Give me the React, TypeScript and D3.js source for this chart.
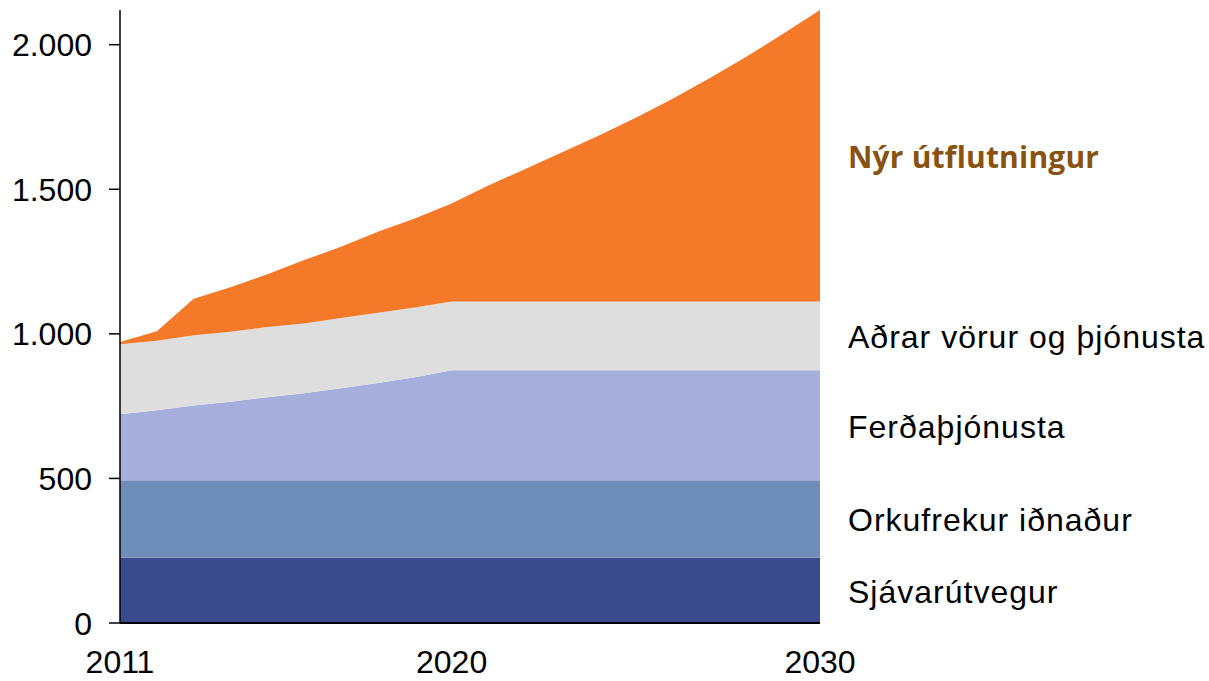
import React, { useRef, useEffect } from "react";
import * as d3 from "d3";

const years = [
  2011, 2012, 2013, 2014, 2015, 2016, 2017, 2018, 2019, 2020,
  2021, 2022, 2023, 2024, 2025, 2026, 2027, 2028, 2029, 2030,
];
const sjavarutvegur = [
  226, 226, 226, 226, 226, 226, 226, 226, 226, 226,
  226, 226, 226, 226, 226, 226, 226, 226, 226, 226,
];
const orkufrekur = [
  268, 268, 268, 268, 268, 268, 268, 268, 268, 268,
  268, 268, 268, 268, 268, 268, 268, 268, 268, 268,
];
const ferdathjonusta = [
  228, 242, 258, 271, 287, 301, 318, 336, 356, 380,
  380, 380, 380, 380, 380, 380, 380, 380, 380, 380,
];
const adrarVorur = [
  242, 240, 243, 242, 243, 241, 243, 243, 241, 238,
  238, 238, 238, 238, 238, 238, 238, 238, 238, 238,
];
const nyrUtflutningur = [
  8, 33, 126, 154, 182, 219, 246, 280, 308, 339,
  401, 458, 516, 574, 635, 701, 772, 846, 926, 1008,
];

const seriesKeys = ["sjavar", "orku", "ferda", "adrar", "nyr"];
const seriesLabels = [
  "Sjávarútvegur",
  "Orkufrekur iðnaður",
  "Ferðaþjónusta",
  "Aðrar vörur og þjónusta",
  "Nýr útflutningur",
];
const seriesColors = ["#3b4a8d", "#6f8db9", "#a6aedb", "#dedede", "#f47929"];
const labelY = [591, 519, 426, 336, 157];

const yTicks = [0, 500, 1000, 1500, 2000];
const xTicks = [2011, 2020, 2030];

const App = () => {
  const svgRef = useRef(null);

  useEffect(() => {
    const width = 1209;
    const height = 681;
    const margin = { top: 10, right: 389, bottom: 58, left: 120 };

    const svg = d3.select(svgRef.current);
    svg.selectAll("*").remove();

    const table = years.map((y, i) => ({
      year: y,
      sjavar: sjavarutvegur[i],
      orku: orkufrekur[i],
      ferda: ferdathjonusta[i],
      adrar: adrarVorur[i],
      nyr: nyrUtflutningur[i],
    }));

    const x = d3
      .scaleLinear()
      .domain([2011, 2030])
      .range([margin.left, width - margin.right]);
    const y = d3
      .scaleLinear()
      .domain([0, 2120])
      .range([height - margin.bottom, margin.top]);

    const stacked = d3.stack().keys(seriesKeys)(table);

    const area = d3
      .area()
      .x((d) => x(d.data.year))
      .y0((d) => y(d[0]))
      .y1((d) => y(d[1]));

    svg
      .append("g")
      .selectAll("path")
      .data(stacked)
      .join("path")
      .attr("d", area)
      .attr("fill", (d, i) => seriesColors[i]);

    // y axis
    const font = "'Liberation Sans', Arial, sans-serif";
    svg
      .append("line")
      .attr("x1", x(2011))
      .attr("x2", x(2011))
      .attr("y1", margin.top)
      .attr("y2", y(0))
      .attr("stroke", "#000")
      .attr("stroke-width", 1.5);

    const yt = svg.append("g");
    yt.selectAll("line")
      .data(yTicks)
      .join("line")
      .attr("x1", x(2011) - 11)
      .attr("x2", x(2011))
      .attr("y1", (d) => y(d))
      .attr("y2", (d) => y(d))
      .attr("stroke", "#000")
      .attr("stroke-width", 1.5);
    yt.selectAll("text")
      .data(yTicks)
      .join("text")
      .attr("x", x(2011) - 28)
      .attr("y", (d) => y(d))
      .attr("dy", "0.36em")
      .attr("text-anchor", "end")
      .attr("font-family", font)
      .attr("font-size", 32)
      .attr("fill", "#000")
      .text((d) => d3.format(",")(d).replace(/,/g, "."));

    // x axis
    svg
      .append("line")
      .attr("x1", x(2011))
      .attr("x2", x(2030))
      .attr("y1", y(0))
      .attr("y2", y(0))
      .attr("stroke", "#000")
      .attr("stroke-width", 2);

    svg
      .append("g")
      .selectAll("text")
      .data(xTicks)
      .join("text")
      .attr("x", (d) => x(d))
      .attr("y", 673)
      .attr("text-anchor", "middle")
      .attr("font-family", font)
      .attr("font-size", 32)
      .attr("fill", "#000")
      .text((d) => d);

    // series labels
    svg
      .append("g")
      .selectAll("text")
      .data(seriesLabels)
      .join("text")
      .attr("x", 848)
      .attr("y", (d, i) => labelY[i])
      .attr("dy", "0.36em")
      .attr("font-family", (d, i) =>
        i === 4 ? "'Open Sans', sans-serif" : font
      )
      .attr("font-weight", (d, i) => (i === 4 ? "bold" : "normal"))
      .attr("font-size", (d, i) => (i === 4 ? 30 : 32))
      .attr("letter-spacing", (d, i) => (i === 4 ? 0.2 : 1))
      .attr("fill", (d, i) => (i === 4 ? "#8a5210" : "#000"))
      .text((d) => d);
  }, []);

  return (
    <div style={{ position: "absolute", left: 0, top: 0 }}>
      <svg ref={svgRef} width={1209} height={681} style={{ display: "block" }}></svg>
    </div>
  );
};

export default App;
